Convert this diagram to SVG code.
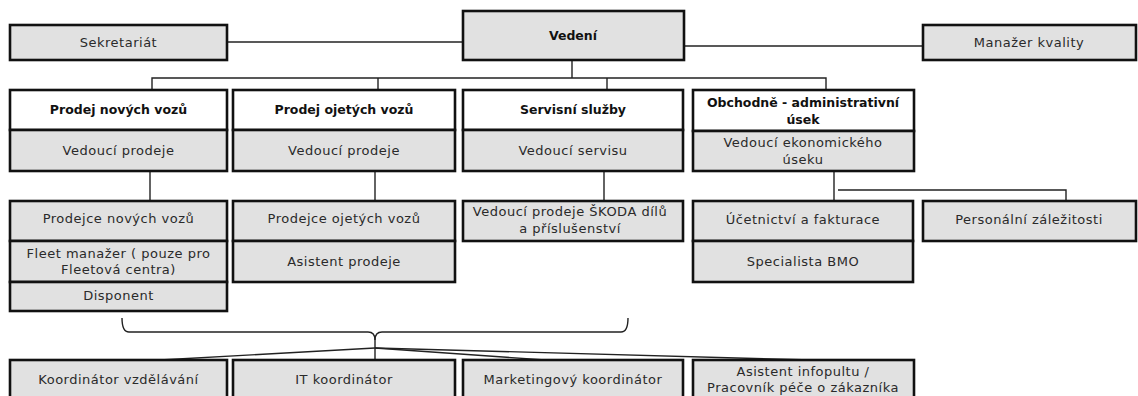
<svg xmlns="http://www.w3.org/2000/svg" width="1138" height="396" viewBox="0 0 1138 396">
<style>
  .box{stroke:#111;stroke-width:2.6}
  .hd{fill:#ffffff}
  .gr{fill:#e1e1e1}
  .t{font-family:"DejaVu Sans",Verdana,sans-serif;font-size:13px;fill:#2a2a2a;text-anchor:middle;letter-spacing:0.5px}
  .b{font-family:"DejaVu Sans",Verdana,sans-serif;font-size:12.5px;font-weight:bold;fill:#111;text-anchor:middle}
  .ln{stroke:#222;stroke-width:1.4;fill:none}
</style>
<rect width="1138" height="396" fill="#ffffff"/>

<!-- connectors -->
<g id="connectors" class="ln">
  <line x1="227" y1="42" x2="463" y2="42"/>
  <line x1="684" y1="46" x2="923" y2="46"/>
  <line x1="572" y1="60" x2="572" y2="78"/>
  <polyline points="152,90 152,78 826,78 826,90"/>
  <line x1="378" y1="78" x2="378" y2="90"/>
  <line x1="607" y1="78" x2="607" y2="90"/>
  <line x1="150" y1="171" x2="150" y2="201"/>
  <line x1="375" y1="171" x2="375" y2="201"/>
  <line x1="604" y1="171" x2="604" y2="201"/>
  <line x1="834" y1="171" x2="834" y2="201"/>
  <polyline points="838,190 1066,190 1066,201"/>
  <!-- brace gathering the departments -->
  <path d="M122,318 Q122,332 129,332 L368,332 Q375,332 375,340 L375,348"/>
  <path d="M628,318 Q628,332 621,332 L382,332 Q375,332 375,340"/>
  <line x1="375" y1="348" x2="375" y2="360"/>
  <line x1="375" y1="348" x2="160" y2="360"/>
  <line x1="375" y1="348" x2="545" y2="360"/>
  <line x1="375" y1="348" x2="812" y2="360"/>
</g>

<!-- top row -->
<g id="sekretariat">
  <rect class="box gr" x="10" y="25" width="217" height="35"/>
  <text class="t" x="118.5" y="47">Sekretariát</text>
</g>
<g id="vedeni">
  <rect class="box gr" x="463" y="11" width="221" height="49"/>
  <text class="b" x="573" y="40">Vedení</text>
</g>
<g id="manazer-kvality">
  <rect class="box gr" x="923" y="25" width="213" height="35"/>
  <text class="t" x="1029" y="47">Manažer kvality</text>
</g>

<!-- departments -->
<g id="prodej-novych">
  <rect class="box hd" x="10" y="90" width="217" height="40"/>
  <text class="b" x="118.5" y="114">Prodej nových vozů</text>
  <rect class="box gr" x="10" y="130" width="217" height="41"/>
  <text class="t" x="118.5" y="155">Vedoucí prodeje</text>
</g>
<g id="prodej-ojetych">
  <rect class="box hd" x="233" y="90" width="222" height="40"/>
  <text class="b" x="344" y="114">Prodej ojetých vozů</text>
  <rect class="box gr" x="233" y="130" width="222" height="41"/>
  <text class="t" x="344" y="155">Vedoucí prodeje</text>
</g>
<g id="servis">
  <rect class="box hd" x="463" y="90" width="220" height="40"/>
  <text class="b" x="573" y="114">Servisní služby</text>
  <rect class="box gr" x="463" y="130" width="220" height="41"/>
  <text class="t" x="573" y="155">Vedoucí servisu</text>
</g>
<g id="obchodne-administrativni">
  <rect class="box hd" x="693" y="90" width="221" height="41"/>
  <text class="b" x="803" y="107">Obchodně - administrativní</text>
  <text class="b" x="803" y="124">úsek</text>
  <rect class="box gr" x="693" y="131" width="221" height="40"/>
  <text class="t" x="803" y="147">Vedoucí ekonomického</text>
  <text class="t" x="803" y="164">úseku</text>
</g>

<!-- staff -->
<g id="prodejci-novych">
  <rect class="box gr" x="10" y="201" width="217" height="40"/>
  <text class="t" x="118.5" y="223">Prodejce nových vozů</text>
  <rect class="box gr" x="10" y="241" width="217" height="41"/>
  <text class="t" x="118.5" y="258">Fleet manažer ( pouze pro</text>
  <text class="t" x="118.5" y="274">Fleetová centra)</text>
  <rect class="box gr" x="10" y="282" width="217" height="29"/>
  <text class="t" x="118.5" y="300">Disponent</text>
</g>
<g id="prodejci-ojetych">
  <rect class="box gr" x="233" y="201" width="222" height="40"/>
  <text class="t" x="344" y="223">Prodejce ojetých vozů</text>
  <rect class="box gr" x="233" y="241" width="222" height="41"/>
  <text class="t" x="344" y="266">Asistent prodeje</text>
</g>
<g id="skoda-dily">
  <rect class="box gr" x="463" y="201" width="220" height="40"/>
  <text class="t" x="570" y="216">Vedoucí prodeje ŠKODA dílů</text>
  <text class="t" x="570" y="233">a příslušenství</text>
</g>
<g id="ucetnictvi">
  <rect class="box gr" x="693" y="201" width="220" height="40"/>
  <text class="t" x="803" y="224">Účetnictví a fakturace</text>
  <rect class="box gr" x="693" y="241" width="220" height="41"/>
  <text class="t" x="803" y="266">Specialista BMO</text>
</g>
<g id="personalni">
  <rect class="box gr" x="923" y="201" width="213" height="40"/>
  <text class="t" x="1029" y="224">Personální záležitosti</text>
</g>

<!-- shared roles -->
<g id="koordinator-vzdelavani">
  <rect class="box gr" x="10" y="360" width="217" height="42"/>
  <text class="t" x="118.5" y="384">Koordinátor vzdělávání</text>
</g>
<g id="it-koordinator">
  <rect class="box gr" x="233" y="360" width="222" height="42"/>
  <text class="t" x="344" y="384">IT koordinátor</text>
</g>
<g id="marketing-koordinator">
  <rect class="box gr" x="463" y="360" width="220" height="42"/>
  <text class="t" x="573" y="384">Marketingový koordinátor</text>
</g>
<g id="asistent-infopultu">
  <rect class="box gr" x="693" y="360" width="221" height="42"/>
  <text class="t" x="803" y="376">Asistent infopultu /</text>
  <text class="t" x="803" y="392">Pracovník péče o zákazníka</text>
</g>
</svg>
